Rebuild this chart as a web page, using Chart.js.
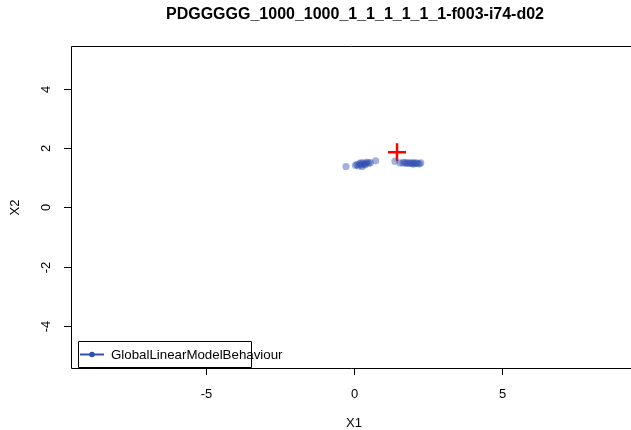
<!DOCTYPE html>
<html><head><meta charset="utf-8">
<script src="https://cdn.jsdelivr.net/npm/chart.js@4/dist/chart.umd.min.js"></script>
<style>html,body{margin:0;padding:0;background:#fff}#wrap{width:631px;height:430px}</style>
</head><body><div id="wrap"><canvas id="c" width="631" height="430"></canvas></div>
<script>
const chartTitle = "PDGGGGG_1000_1000_1_1_1_1_1_1-f003-i74-d02";
const xTitle = "X1";
const yTitle = "X2";
const seriesName = "GlobalLinearModelBehaviour";
const xTicks = [-5, 0, 5];
const yTicks = [-4, -2, 0, 2, 4];
const xRange = [-9.53, 9.33];
const yRange = [-5.41, 5.44];
const pointsX = [-0.27, 0.05, 0.10, 0.15, 0.20, 0.25, 0.30, 0.35, 0.40, 0.45, 0.50, 0.28, 0.22, 0.38, 0.55, 0.73,
                 1.38, 1.55, 1.65, 1.75, 1.80, 1.85, 1.90, 1.95, 2.00, 2.05, 2.10, 2.15, 2.20, 2.25, 1.70, 2.00];
const pointsY = [1.38, 1.42, 1.45, 1.40, 1.47, 1.43, 1.50, 1.46, 1.50, 1.52, 1.49, 1.38, 1.50, 1.44, 1.51, 1.57,
                 1.56, 1.50, 1.50, 1.49, 1.51, 1.48, 1.50, 1.49, 1.51, 1.48, 1.50, 1.49, 1.47, 1.50, 1.52, 1.46];
const targetX = [1.45];
const targetY = [1.86];

const FONT = '"Liberation Sans", Arial, sans-serif';

const rPlot = {
  id: 'rPlot',
  afterDraw(chart) {
    const ctx = chart.ctx, a = chart.chartArea;
    const xs = chart.scales.x, ys = chart.scales.y;
    ctx.save();
    ctx.strokeStyle = '#000'; ctx.lineWidth = 1;
    // box (right side is off-canvas)
    ctx.beginPath();
    ctx.moveTo(a.right + 10, a.top + 0.5); ctx.lineTo(a.left + 0.5, a.top + 0.5);
    ctx.lineTo(a.left + 0.5, a.bottom + 0.5); ctx.lineTo(a.right + 10, a.bottom + 0.5);
    ctx.stroke();
    ctx.fillStyle = '#000';
    ctx.font = '13px ' + FONT;
    // x ticks
    ctx.textAlign = 'center'; ctx.textBaseline = 'middle';
    xTicks.forEach(v => {
      const px = Math.round(xs.getPixelForValue(v)) + 0.5;
      ctx.beginPath(); ctx.moveTo(px, a.bottom); ctx.lineTo(px, a.bottom + 7); ctx.stroke();
      ctx.fillText(String(v), px, a.bottom + 26);
    });
    // y ticks
    yTicks.forEach(v => {
      const py = Math.round(ys.getPixelForValue(v)) + 0.5;
      ctx.beginPath(); ctx.moveTo(a.left, py); ctx.lineTo(a.left - 7, py); ctx.stroke();
      ctx.save(); ctx.translate(a.left - 25, py); ctx.rotate(-Math.PI / 2);
      ctx.fillText(String(v), 0, 0); ctx.restore();
    });
    // axis titles
    ctx.fillText(xTitle, xs.getPixelForValue(0), 423);
    ctx.save(); ctx.translate(15, ys.getPixelForValue(0)); ctx.rotate(-Math.PI / 2);
    ctx.fillText(yTitle, 0, 0); ctx.restore();
    // title
    ctx.font = 'bold 16px ' + FONT;
    ctx.fillText(chartTitle, 355, 15);
    // legend
    ctx.font = '13.3px ' + FONT;
    ctx.beginPath(); ctx.rect(78.5, 341.5, 173, 26); ctx.stroke();
    ctx.strokeStyle = '#3050b0'; ctx.lineWidth = 2;
    ctx.beginPath(); ctx.moveTo(80, 354.5); ctx.lineTo(104, 354.5); ctx.stroke();
    ctx.fillStyle = '#3050b0';
    ctx.beginPath(); ctx.arc(92, 354.5, 2.8, 0, Math.PI * 2); ctx.fill();
    ctx.fillStyle = '#000'; ctx.textAlign = 'left';
    ctx.fillText(seriesName, 111, 355);
    ctx.restore();
  }
};

new Chart(document.getElementById('c'), {
  type: 'scatter',
  data: {
    datasets: [
      {
        label: seriesName,
        data: pointsX.map((x, i) => ({x: x, y: pointsY[i]})),
        pointRadius: 3.6, pointBorderWidth: 0,
        backgroundColor: 'rgba(48,80,176,0.45)', borderColor: 'rgba(48,80,176,0)'
      },
      {
        label: 'target',
        data: targetX.map((x, i) => ({x: x, y: targetY[i]})),
        pointStyle: 'cross', pointRadius: 9, pointBorderWidth: 2.5,
        borderColor: '#ff0000', backgroundColor: '#ff0000'
      }
    ]
  },
  options: {
    responsive: false, animation: false, devicePixelRatio: 1,
    layout: {autoPadding: false, padding: {left: 71, top: 46, right: 0, bottom: 62}},
    plugins: {legend: {display: false}, title: {display: false}, tooltip: {enabled: false}},
    scales: {
      x: {type: 'linear', display: false, min: xRange[0], max: xRange[1]},
      y: {type: 'linear', display: false, min: yRange[0], max: yRange[1]}
    }
  },
  plugins: [rPlot]
});
</script>
</body></html>
